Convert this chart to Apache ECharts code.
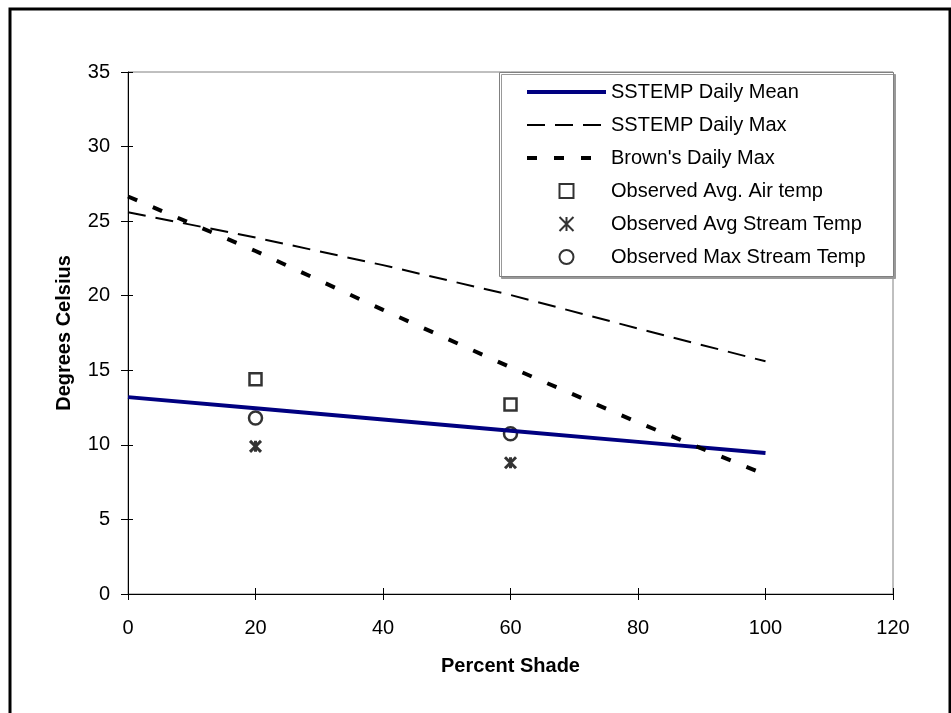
<!DOCTYPE html>
<html>
<head>
<meta charset="utf-8">
<script src="https://cdn.jsdelivr.net/npm/echarts@6/dist/echarts.min.js"></script>
<style>
  html, body { margin: 0; padding: 0; background: #fff; }
  #chart { width: 951px; height: 713px; }
</style>
</head>
<body>
<div id="chart"></div>
<script>
// ---- data ----
var shade = [0, 20, 40, 60, 80, 100];
var sstempMean = [13.2, 12.45, 11.7, 10.95, 10.2, 9.45];
var sstempMax = [25.6, 23.9, 22.05, 20.05, 17.8, 15.6];
var brownMax = [26.65, 23.0, 19.05, 15.2, 11.5, 8.0];

var obsShade = [20, 60];
var obsAir = [14.4, 12.7];
var obsAvgStream = [9.9, 8.8];
var obsMaxStream = [11.8, 10.75];

var xTicks = { min: 0, max: 120, interval: 20 };
var yTicks = { min: 0, max: 35, interval: 5 };

var FONT = "'Liberation Sans', Arial, sans-serif";

/** zip x and y lists into [[x, y], ...] */
function pairs(xs, ys) {
  var out = [];
  for (var i = 0; i < xs.length; i++) out.push([xs[i], ys[i]]);
  return out;
}

var squarePath = 'path://M0,0 L10,0 L10,10 L0,10 Z';
var starPath = 'path://M0,0 L10,10 M10,0 L0,10 M5,0 L5,10';

var chart = echarts.init(document.getElementById('chart'), null, { renderer: 'canvas' });

var option = {
  backgroundColor: '#fff',
  animation: false,
  textStyle: { fontFamily: FONT },
  grid: {
    left: 128, right: 58, top: 72, bottom: 119,
    show: true, borderColor: '#808080', borderWidth: 1, backgroundColor: 'transparent'
  },
  graphic: [
    {
      type: 'rect', z: -10,
      shape: { x: 10, y: 9, width: 940, height: 800 },
      style: { fill: 'none', stroke: '#000', lineWidth: 3 }
    },
    {
      type: 'rect', z: 50,
      shape: { x: 499.5, y: 72.5, width: 394, height: 204 },
      style: {
        fill: '#fff', stroke: '#808080', lineWidth: 1,
        shadowColor: '#999', shadowOffsetX: 2, shadowOffsetY: 2, shadowBlur: 0
      }
    }
  ],
  legend: {
    orient: 'vertical',
    left: 499, top: 72,
    padding: [9, 10, 7, 26],
    itemWidth: 79, itemHeight: 14, itemGap: 11,
    z: 60,
    textStyle: { fontFamily: FONT, fontSize: 20, color: '#000', lineHeight: 22 },
    data: [
      { name: 'SSTEMP Daily Mean', itemStyle: { opacity: 0 }, lineStyle: { width: 4 } },
      { name: 'SSTEMP Daily Max', itemStyle: { opacity: 0 }, lineStyle: { width: 2 } },
      { name: "Brown's Daily Max", itemStyle: { opacity: 0 }, lineStyle: { width: 4 } },
      { name: 'Observed Avg. Air temp' },
      { name: 'Observed Avg Stream Temp' },
      { name: 'Observed Max Stream Temp' }
    ]
  },
  xAxis: [
    {
      type: 'value', min: xTicks.min, max: xTicks.max, interval: xTicks.interval,
      name: 'Percent Shade', nameLocation: 'middle', nameGap: 62,
      nameTextStyle: { fontFamily: FONT, fontSize: 20, fontWeight: 'bold', color: '#000' },
      axisLine: { show: true, onZero: false, lineStyle: { color: '#000', width: 1 } },
      axisTick: { show: true, length: 6, lineStyle: { color: '#000' } },
      axisLabel: { fontFamily: FONT, fontSize: 20, color: '#000', margin: 24 },
      splitLine: { show: false }
    },
    {
      type: 'value', min: xTicks.min, max: xTicks.max, interval: xTicks.interval,
      position: 'bottom',
      axisLine: { show: false },
      axisTick: { show: true, inside: true, length: 6, lineStyle: { color: '#000' } },
      axisLabel: { show: false },
      splitLine: { show: false }
    }
  ],
  yAxis: [
    {
      type: 'value', min: yTicks.min, max: yTicks.max, interval: yTicks.interval,
      name: 'Degrees Celsius', nameLocation: 'middle', nameGap: 54,
      nameTextStyle: { fontFamily: FONT, fontSize: 20, fontWeight: 'bold', color: '#000' },
      axisLine: { show: true, onZero: false, lineStyle: { color: '#000', width: 1 } },
      axisTick: { show: true, length: 7, lineStyle: { color: '#000' } },
      axisLabel: { fontFamily: FONT, fontSize: 20, color: '#000', margin: 18 },
      splitLine: { show: false }
    },
    {
      type: 'value', min: yTicks.min, max: yTicks.max, interval: yTicks.interval,
      position: 'left',
      axisLine: { show: false },
      axisTick: { show: true, inside: true, length: 5, lineStyle: { color: '#000' } },
      axisLabel: { show: false },
      splitLine: { show: false }
    }
  ],
  series: [
    {
      name: 'SSTEMP Daily Mean', type: 'line', symbol: 'none',
      data: pairs(shade, sstempMean),
      lineStyle: { color: '#000080', width: 4 },
      itemStyle: { color: '#000080' }
    },
    {
      name: 'SSTEMP Daily Max', type: 'line', symbol: 'none',
      data: pairs(shade, sstempMax),
      lineStyle: { color: '#000', width: 2, type: [18, 10] },
      itemStyle: { color: '#000' }
    },
    {
      name: "Brown's Daily Max", type: 'line', symbol: 'none',
      data: pairs(shade, brownMax),
      lineStyle: { color: '#000', width: 4, type: [10, 17] },
      itemStyle: { color: '#000' }
    },
    {
      name: 'Observed Avg. Air temp', type: 'scatter', symbol: squarePath, symbolSize: 12,
      symbolKeepAspect: true,
      data: pairs(obsShade, obsAir),
      itemStyle: { color: '#fff', borderColor: '#000', borderWidth: 2.5 }
    },
    {
      name: 'Observed Avg Stream Temp', type: 'scatter', symbol: starPath, symbolSize: 11,
      symbolKeepAspect: true,
      data: pairs(obsShade, obsAvgStream),
      itemStyle: { color: 'none', borderColor: '#000', borderWidth: 3 }
    },
    {
      name: 'Observed Max Stream Temp', type: 'scatter', symbol: 'circle', symbolSize: 13,
      data: pairs(obsShade, obsMaxStream),
      itemStyle: { color: '#fff', borderColor: '#000', borderWidth: 2.5 }
    }
  ]
};

chart.setOption(option);
</script>
</body>
</html>
